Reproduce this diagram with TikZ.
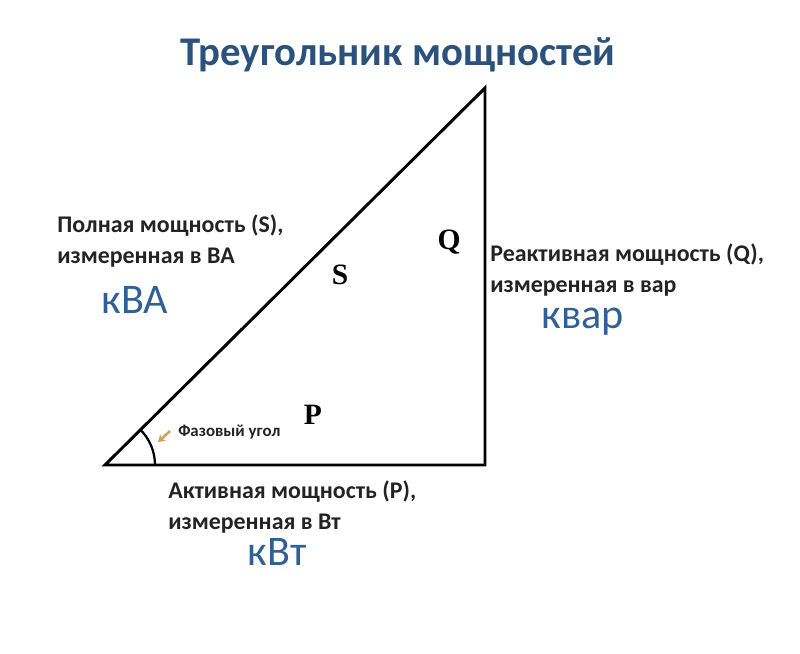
\documentclass[tikz,border=0pt]{standalone}
\usepackage{fontspec}
\setmainfont{Carlito}
\newfontfamily\sidefont{Liberation Serif}
\usepackage{tikz}
\usetikzlibrary{arrows.meta}

\definecolor{titleblue}{RGB}{42,82,124}
\definecolor{unitblue}{RGB}{48,96,150}
\definecolor{textgray}{RGB}{35,35,35}
\definecolor{arroworange}{RGB}{210,160,90}

\tikzset{
	desc/.style={anchor=west,align=left,text=textgray,font=\fontsize{17}{22}\selectfont\bfseries,inner sep=0pt},
	unit/.style={text=unitblue,font=\fontsize{30}{34}\selectfont,inner sep=0pt},
	side/.style={font=\fontsize{21}{24}\sidefont\bfseries,inner sep=0pt},
}

\begin{document}
\begin{tikzpicture}
	\useasboundingbox (0,0) rectangle (20,16.325);
	
	% corners of the triangle
	\coordinate (A) at (2.625,4.7);
	\coordinate (B) at (12.125,4.7);
	\coordinate (C) at (12.125,14.125);
	
	% draw triangle
	\draw[line width=2.1pt, line join=miter] (A) -- (B) -- (C) -- cycle;
	
	% phase angle
	\draw[line width=1.6pt] ([xshift=1.25cm]A) arc (0:44.77:1.25);
	
	% title
	\node[text=titleblue,font=\fontsize{29}{34}\selectfont\bfseries] (title) at (9.95,14.95) {Треугольник мощностей};
	
	% side letters
	\node[side] (S) at (8.5,9.45) {S};
	\node[side] (Q) at (11.225,10.275) {Q};
	\node[side] (P) at (7.825,5.95) {P};
	
	% angle label
	\node[anchor=west,text=textgray,font=\fontsize{12}{14}\selectfont\bfseries,inner sep=0pt] (angle) at (4.45,5.525) {Фазовый угол};
	\coordinate (arrtail) at (4.25,5.55);
	\coordinate (arrhead) at (3.95,5.27);
	\draw[-{Stealth[length=5pt,width=6pt]}, arroworange, line width=1.8pt] (arrtail) -- (arrhead);
	
	% descriptions
	\node[desc] (full) at (1.425,10.3) {Полная мощность (S),\\измеренная в ВА};
	\node[unit] (kva) at (3.375,8.825) {кВА};
	
	\node[desc] (react) at (12.25,9.575) {Реактивная мощность (Q),\\измеренная в вар};
	\node[unit] (kvar) at (14.575,8.275) {квар};
	
	\node[desc] (act) at (4.2,3.65) {Активная мощность (P),\\измеренная в Вт};
	\node[unit] (kvt) at (6.925,2.525) {кВт};
	
\end{tikzpicture}
\end{document}
